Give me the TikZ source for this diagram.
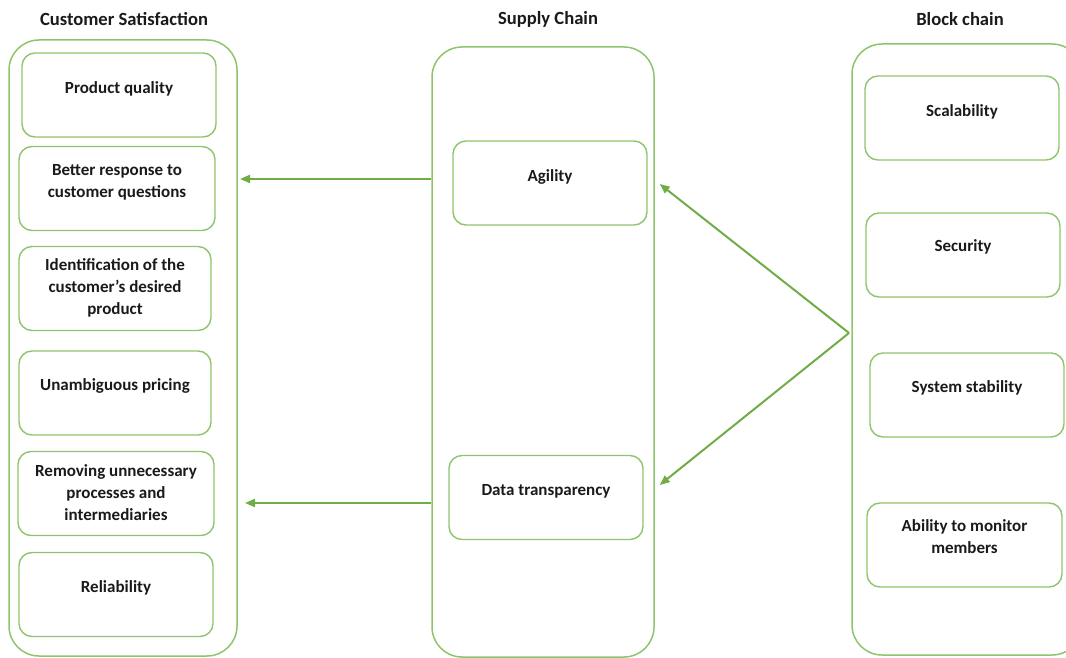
\documentclass[tikz,border=0pt]{standalone}
\usepackage{fontspec}
\setmainfont{Carlito}
\usetikzlibrary{arrows.meta}
\definecolor{cline}{HTML}{8DC46C}
\definecolor{carrow}{HTML}{70AD47}
\definecolor{cink}{HTML}{1A1A1A}
\tikzset{>={Triangle[length=10pt,width=8pt]},
  column/.style={draw=cline,line width=1.5pt,rounded corners=30pt},
  item/.style={draw=cline,line width=1.4pt,rounded corners=13pt,minimum height=84pt},
  itemlab/.style={text=cink,align=center,inner sep=0pt},
  title/.style={text=cink,inner sep=0pt,font=\fontsize{18.6}{22}\selectfont\bfseries},
  flow/.style={->,draw=carrow,line width=2pt},
}

\begin{document}
\begin{tikzpicture}[x=1pt,y=-1pt,font=\fontsize{17}{22}\selectfont\bfseries]
  \useasboundingbox (0,0) rectangle (1066,658);
  \clip (0,0) rectangle (1066,658);
  % three columns: customer satisfaction <- supply chain <- block chain
  \node[column,minimum width=228pt,minimum height=616pt] (cust)   at (123,348)   {};
  \node[column,minimum width=222pt,minimum height=610pt] (supply) at (543,352)   {};
  \node[column,minimum width=230pt,minimum height=611pt] (block)  at (967,349.5) {};

  \node[title] (cust-t)   at (124,19) {Customer Satisfaction};
  \node[title] (supply-t) at (548,19) {Supply Chain};
  \node[title] (block-t)  at (960,19) {Block chain};

  % boxes: name / x / y / width / label y / label
  \foreach \n/\x/\y/\w/\ty/\t in {
      qual/119/95/194/89/{Product quality},
      resp/117/188.5/196/182/{Better response to\\customer questions},
      iden/115/288.5/192/288/{Identification of the\\customer's desired\\product},
      pric/115/393/192/386/{Unambiguous pricing},
      remo/116/493.5/196/493/{Removing unnecessary\\processes and\\intermediaries},
      reli/116/594.5/194/588/{Reliability},
      agil/550/183/194/177/{Agility},
      tran/546/497.5/194/491/{Data transparency},
      scal/962/118/194/112/{Scalability},
      secu/963/255/194/247/{Security},
      stab/967/395/194/388/{System stability},
      moni/964.5/545/195/537/{Ability to monitor\\members}}{
    \node[item,minimum width=\w pt] (\n) at (\x,\y) {};
    \node[itemlab] (\n-l) at (\x,\ty) {\t};
  }

  \coordinate (fork) at (849,333);
  \coordinate (cust-in1) at (240,179);
  \coordinate (cust-in2) at (245,503);
  \draw[flow] (supply.west |- cust-in1) -- (cust-in1);
  \draw[flow] (supply.west |- cust-in2) -- (cust-in2);
  \draw[flow] (fork) -- ([xshift=12pt,yshift=-1pt]agil.east);
  \draw[flow] (fork) -- ([xshift=16pt,yshift=12.5pt]tran.east);
\end{tikzpicture}
\end{document}
